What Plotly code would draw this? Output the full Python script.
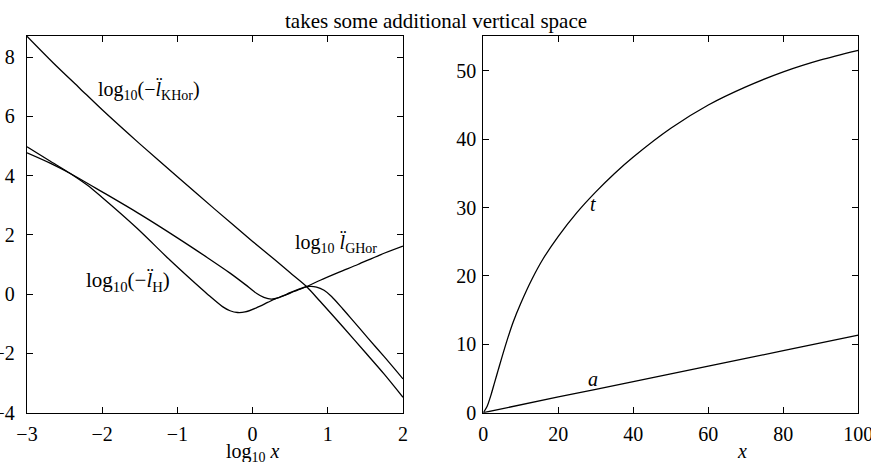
import plotly.graph_objects as go

# ---------------- data ----------------
# left panel: x = log10 x
khor_x = [-3, -2.65, -2.3, -2.0, -1.5, -1.0, -0.5, 0.0, 0.3, 0.5, 0.72, 0.9, 1.2, 1.5, 1.75, 2.0]
khor_y = [8.7, 7.8, 6.95, 6.22, 5.07, 3.96, 2.86, 1.78, 1.15, 0.72, 0.25, -0.25, -1.1, -1.97, -2.7, -3.48]

ghor_x = [-3, -2.7, -2.43, -2.2, -2.0, -1.54, -1.1, -0.8, -0.6, -0.4, -0.3, -0.2, -0.1, 0.05, 0.2, 0.3, 0.4,
          0.5, 0.6, 0.72, 0.9, 1.16, 1.4, 1.69, 2.0]
ghor_y = [4.97, 4.5, 4.08, 3.68, 3.26, 2.23, 1.15, 0.45, 0.0, -0.42, -0.56, -0.62, -0.6, -0.46, -0.28, -0.16, -0.06,
          0.05, 0.15, 0.26, 0.47, 0.75, 1.0, 1.32, 1.62]

h_x = [-3, -2.7, -2.43, -2.0, -1.5, -1.0, -0.6, -0.3, -0.1, 0.05, 0.15, 0.25, 0.35, 0.45, 0.55, 0.65,
       0.75, 0.85, 0.95, 1.05, 1.2, 1.3, 1.54, 1.75, 2.0]
h_y = [4.77, 4.43, 4.08, 3.45, 2.7, 1.9, 1.23, 0.71, 0.33, 0.03, -0.11, -0.17, -0.12, -0.02, 0.09, 0.19,
       0.26, 0.24, 0.13, -0.08, -0.5, -0.79, -1.5, -2.11, -2.86]

# right panel
t_x = [0, 1, 2, 3, 4, 6, 8, 10, 13, 16, 20, 25, 30, 35, 40, 50, 60, 70, 80, 90, 100]
t_y = [0, 0.9, 2.5, 4.4, 6.3, 10.0, 13.3, 16.0, 19.55, 22.55, 25.8, 29.3, 32.3, 35.0, 37.4, 41.6, 45.0, 47.65,
       49.85, 51.6, 53.0]

a_x = [0, 20, 40, 60, 80, 100]
a_y = [0, 2.3, 4.55, 6.82, 9.07, 11.35]

title_text = "takes some additional vertical space"
left_xtitle = "log<sub>10</sub> <i>x</i>"
right_xtitle = "<i>x</i>"
lab_khor = "log<sub>10</sub>(−<i>l̈</i><sub>KHor</sub>)"
lab_ghor = "log<sub>10</sub> <i>l̈</i><sub>GHor</sub>"
lab_h = "log<sub>10</sub>(−<i>l̈</i><sub>H</sub>)"
lab_t = "<i>t</i>"
lab_a = "<i>a</i>"

# ---------------- figure ----------------
W, H = 871, 462
FONT = "Liberation Serif"
line = dict(color="black", width=1.3, shape="spline", smoothing=0.8)

fig = go.Figure()
for xs, ys in [(khor_x, khor_y), (ghor_x, ghor_y), (h_x, h_y)]:
    fig.add_trace(go.Scatter(x=xs, y=ys, mode="lines", line=line, xaxis="x", yaxis="y", showlegend=False))
for xs, ys in [(t_x, t_y), (a_x, a_y)]:
    fig.add_trace(go.Scatter(x=xs, y=ys, mode="lines", line=line, xaxis="x2", yaxis="y2", showlegend=False))

ydom = [1 - 412.7 / H, 1 - 36 / H]
axcommon = dict(showline=True, mirror="ticks", linecolor="black", linewidth=1.3, ticks="inside",
                ticklen=6, tickwidth=1, tickcolor="black", showgrid=False, zeroline=False,
                automargin=False,
                tickfont=dict(family=FONT, size=20, color="black"), ticklabeloverflow="allow")

fig.update_layout(
    width=W, height=H, margin=dict(l=0, r=0, t=0, b=0, pad=0),
    paper_bgcolor="white", plot_bgcolor="white",
    xaxis=dict(domain=[27 / W, 403 / W], range=[-3, 2], dtick=1, anchor="y", ticklabelstandoff=3, **axcommon),
    yaxis=dict(domain=ydom, range=[-4, 8.71], dtick=2, anchor="x", ticklabelstandoff=7, **axcommon),
    xaxis2=dict(domain=[483.3 / W, 858.3 / W], range=[0, 100], dtick=20, anchor="y2", ticklabelstandoff=3, **axcommon),
    yaxis2=dict(domain=ydom, range=[0, 55.1], dtick=10, anchor="x2", ticklabelstandoff=2, **axcommon),
)

anns = [
    dict(text=title_text, xref="paper", yref="paper", x=436 / W, y=1 - 21 / H, font_size=21),
    dict(text=left_xtitle, xref="paper", yref="paper", x=253 / W, y=1 - 452 / H, font_size=20),
    dict(text=right_xtitle, xref="paper", yref="paper", x=742 / W, y=1 - 451 / H, font_size=20),
    dict(text=lab_khor, xref="x", yref="y", x=-1.38, y=6.89, font_size=20),
    dict(text=lab_ghor, xref="x", yref="y", x=1.11, y=1.72, font_size=20),
    dict(text=lab_h, xref="x", yref="y", x=-1.66, y=0.44, font_size=21),
    dict(text=lab_t, xref="x2", yref="y2", x=29.2, y=30.6, font_size=20),
    dict(text=lab_a, xref="x2", yref="y2", x=29.3, y=5.0, font_size=20),
]
for a in anns:
    fs = a.pop("font_size")
    fig.add_annotation(**a, showarrow=False, xanchor="center", yanchor="middle",
                       font=dict(family=FONT, size=fs, color="black"))

fig.write_html("out.html")
